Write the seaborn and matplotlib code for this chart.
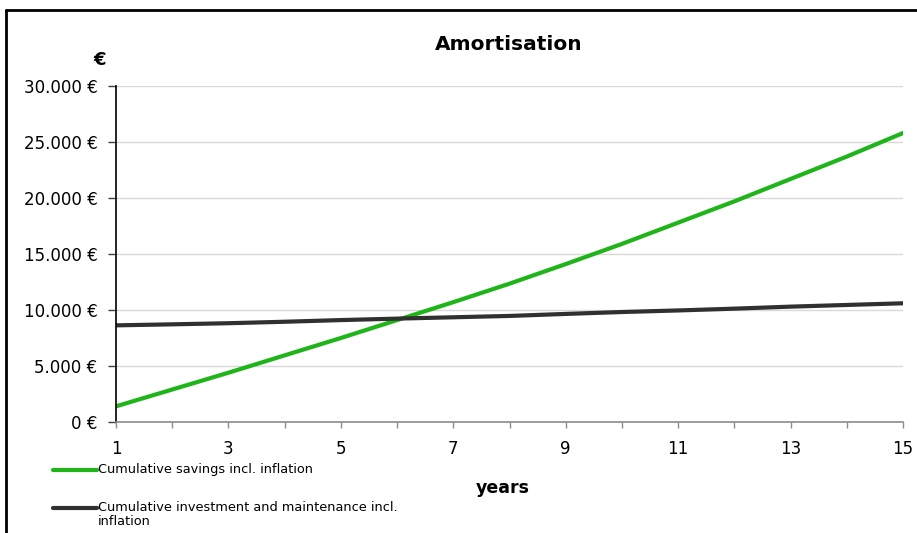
import numpy as np
import pandas as pd
import matplotlib
matplotlib.use("Agg")
import matplotlib.pyplot as plt
from matplotlib.lines import Line2D
import seaborn as sns

years = list(range(1, 16))
savings = [1400, 2900, 4400, 5950, 7500, 9100, 10700, 12350, 14100, 15900,
           17800, 19700, 21700, 23700, 25800]
investment = [8630, 8720, 8820, 8950, 9100, 9230, 9350, 9470, 9650, 9820,
              9960, 10120, 10300, 10450, 10600]
series_names = ["Cumulative savings incl. inflation",
                "Cumulative investment and maintenance incl.\ninflation"]
colors = ["#1fb51a", "#303030"]
y_ticks = [0, 5000, 10000, 15000, 20000, 25000, 30000]
x_ticks = [1, 3, 5, 7, 9, 11, 13, 15]

df = pd.DataFrame({
    "year": years * 2,
    "value": savings + investment,
    "series": [series_names[0]] * len(years) + [series_names[1]] * len(years),
})

sns.set_theme(style="white")
plt.rcParams["font.family"] = ["DejaVu Sans"]
plt.rcParams["text.color"] = "black"
plt.rcParams["xtick.color"] = "black"
plt.rcParams["ytick.color"] = "black"

W, H = 917, 533
fig = plt.figure(figsize=(W / 100, H / 100), dpi=100)
ax = fig.add_axes([116 / W, 1 - 422 / H, (903 - 116) / W, (422 - 86) / H])

sns.lineplot(data=df, x="year", y="value", hue="series",
             palette=dict(zip(series_names, colors)), linewidth=3.0,
             ax=ax, legend=False, sort=True)

ax.set_xlim(1, 15)
ax.set_ylim(0, 30000)
ax.set_yticks(y_ticks)
ax.set_yticklabels([f"{v:,.0f} €".replace(",", ".") for v in y_ticks])
ax.set_xticks(x_ticks)
ax.set_xticklabels([str(v) for v in x_ticks])
ax.set_xticks(years, minor=True)
ax.yaxis.grid(True, color="#d9d9d9", linewidth=1)
ax.set_axisbelow(True)
ax.set_xlabel("")
ax.set_ylabel("")

for side in ["top", "right"]:
    ax.spines[side].set_visible(False)
ax.spines["left"].set_color("black")
ax.spines["left"].set_linewidth(1.2)
ax.spines["bottom"].set_color("#8c8c8c")
ax.spines["bottom"].set_linewidth(1.2)

ax.tick_params(axis="y", which="major", direction="out", length=5.5, width=1,
               color="#404040", labelsize=12, pad=8, left=True,
               labelcolor="black")
ax.tick_params(axis="x", which="both", direction="out", length=4, width=1,
               color="#8c8c8c", labelsize=12, pad=9, bottom=True,
               labelcolor="black")

fig.text(509 / W, 1 - 45 / H, "Amortisation", ha="center", va="center",
         fontsize=14.5, fontweight="bold")
fig.text(100 / W, 1 - 60 / H, "€", ha="center", va="center",
         fontsize=13, fontweight="bold")
fig.text(503 / W, 1 - 488 / H, "years", ha="center", va="center",
         fontsize=12.5, fontweight="bold")

# legend entries: line sample followed by the series name
legend_rows = [470, 508]
for name, color, row in zip(series_names, colors, legend_rows):
    y = 1 - row / H
    fig.add_artist(Line2D([53 / W, 97 / W], [y, y], color=color,
                          linewidth=3.0, solid_capstyle="round",
                          transform=fig.transFigure))
    fig.text(98 / W, 1 - (row - 7) / H, name, ha="left", va="top",
             fontsize=9.3, linespacing=1.1)

# outer frame around the chart area
frame_kw = dict(color="black", linewidth=2, transform=fig.transFigure)
fig.add_artist(Line2D([6 / W, 1.0], [1 - 10 / H, 1 - 10 / H], **frame_kw))
fig.add_artist(Line2D([6 / W, 6 / W], [0, 1 - 10 / H], **frame_kw))

fig.savefig("out.png", dpi=100)
